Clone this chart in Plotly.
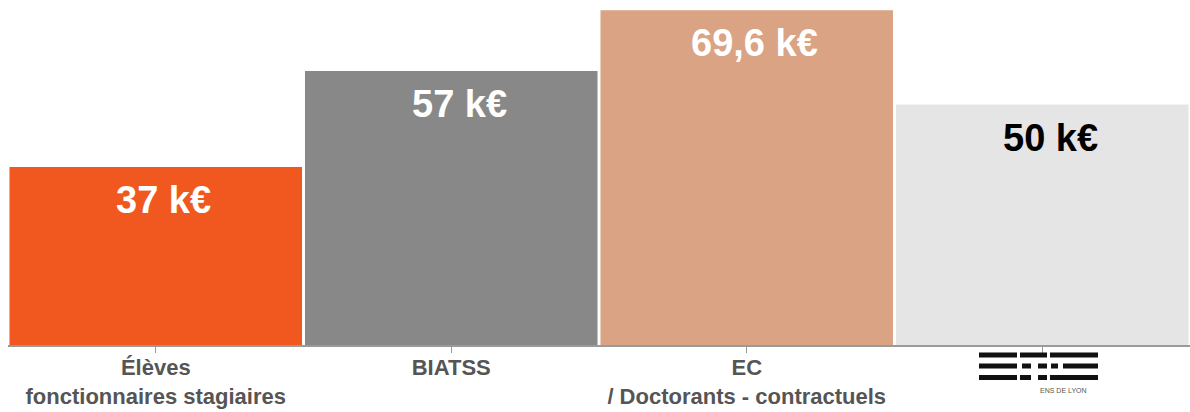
import plotly.graph_objects as go

categories = ["Élèves<br>fonctionnaires stagiaires", "BIATSS", "EC<br>/ Doctorants - contractuels", " "]
values = [37, 57, 69.6, 50]
value_labels = ["37 k€", "57 k€", "69,6 k€", "50 k€"]
bar_colors = ["#F0581F", "#888888", "#D9A384", "#E5E5E5"]
label_colors = ["#FFFFFF", "#FFFFFF", "#FFFFFF", "#000000"]

W, H = 1190, 412
ML, MR, MT, MB = 8, 0, 5, 67
PW, PH = W - ML - MR, H - MT - MB

fig = go.Figure()
fig.add_trace(go.Bar(
    x=list(range(len(categories))), y=values,
    marker=dict(color=bar_colors, line=dict(width=0)),
    hoverinfo="skip",
))

for i, (v, t, c) in enumerate(zip(values, value_labels, label_colors)):
    fig.add_annotation(x=i, y=v, text=f"<b>{t}</b>", showarrow=False,
                       yanchor="middle", yshift=-33, xshift=8,
                       font=dict(family="Liberation Sans, Arial, sans-serif", size=38, color=c))

# ENS de Lyon logo (decorative) in pixel coordinates
def px(x):
    return (x - ML) / PW

def py(y):
    return (H - MB - y) / PH

rows = [(352.5, 357.5), (363.5, 368.5), (375, 380)]
pieces = [
    # E
    (979, 1017, 0), (979, 1017, 1), (979, 1017, 2),
    # n
    (1020, 1047, 0), (1022, 1031, 1), (1038, 1047, 1), (1020, 1031, 2), (1038, 1047, 2),
    # s
    (1050, 1098, 0), (1051, 1058, 1), (1063, 1098, 1), (1050, 1098, 2),
]
for x0, x1, r in pieces:
    y0, y1 = rows[r]
    fig.add_shape(type="rect", xref="paper", yref="paper",
                  x0=px(x0), x1=px(x1), y0=py(y1), y1=py(y0),
                  fillcolor="#111111", line=dict(width=0), layer="above")

fig.add_annotation(xref="paper", yref="paper", x=px(1063), y=py(390), text="ENS DE LYON",
                   showarrow=False, font=dict(family="Liberation Sans, Arial", size=7, color="#555555"),
                   xanchor="center", yanchor="middle")

fig.update_layout(
    width=W, height=H,
    margin=dict(l=ML, r=MR, t=MT, b=MB),
    paper_bgcolor="white", plot_bgcolor="white",
    bargap=0.01, showlegend=False,
    xaxis=dict(
        tickmode="array", tickvals=list(range(len(categories))), ticktext=categories,
        range=[-0.5, 3.5], showline=True, linecolor="#9A9A9A", linewidth=1.5,
        ticks="outside", tickson="boundaries", ticklen=6, tickcolor="#9A9A9A", tickwidth=1,
        ticklabelstandoff=-4,
        tickfont=dict(family="Liberation Sans, Arial, sans-serif", size=22, color="#555555", weight="bold"),
        showgrid=False, zeroline=False, fixedrange=True,
    ),
    yaxis=dict(range=[0, 70.7], visible=False, showgrid=False, zeroline=False, fixedrange=True),
)

fig.write_html("out.html", config={"displayModeBar": False},
               post_script="document.body.style.margin='0';document.body.style.overflow='hidden';")
